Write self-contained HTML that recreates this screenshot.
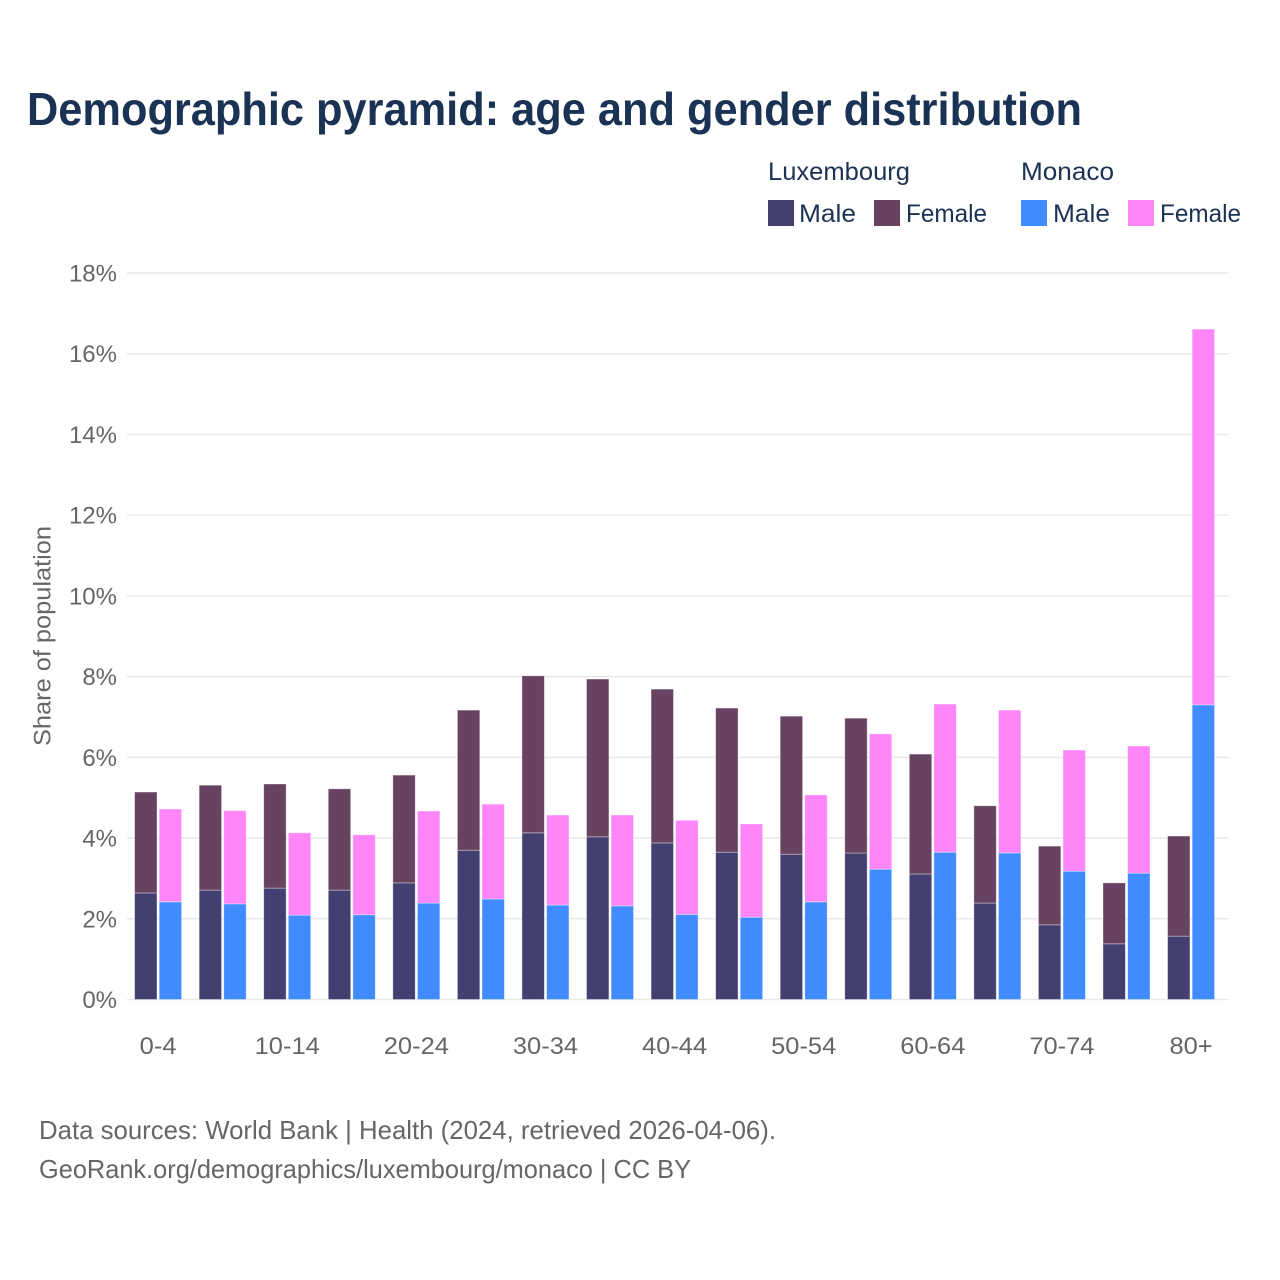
<!DOCTYPE html>
<html lang="en">
<head>
<meta charset="utf-8">
<title>Demographic pyramid: age and gender distribution</title>
<style>
html,body{margin:0;padding:0;background:#fff;width:1280px;height:1280px;overflow:hidden}
svg{display:block}
text{font-family:"Liberation Sans",sans-serif}
.dark{fill:#1a3253}
.grey{fill:#666666}
</style>
</head>
<body>
<svg id="chart" xmlns="http://www.w3.org/2000/svg" width="1280" height="1280" viewBox="0 0 1280 1280">
  <rect x="0" y="0" width="1280" height="1280" fill="#ffffff"/>
  <text class="dark" x="27" y="125" font-size="46" font-weight="700" textLength="1055" lengthAdjust="spacingAndGlyphs">Demographic pyramid: age and gender distribution</text>

  <g>
    <text class="dark" x="768" y="180" font-size="25" textLength="142" lengthAdjust="spacingAndGlyphs">Luxembourg</text>
    <text class="dark" x="1021" y="180" font-size="25" textLength="93" lengthAdjust="spacingAndGlyphs">Monaco</text>
    <rect x="768" y="200" width="26" height="26" fill="#433f70"/>
    <text class="dark" x="799" y="222" font-size="25" textLength="57" lengthAdjust="spacingAndGlyphs">Male</text>
    <rect x="874" y="200" width="26" height="26" fill="#684261"/>
    <text class="dark" x="906" y="222" font-size="25" textLength="81" lengthAdjust="spacingAndGlyphs">Female</text>
    <rect x="1021" y="200" width="26" height="26" fill="#408cff"/>
    <text class="dark" x="1053" y="222" font-size="25" textLength="57" lengthAdjust="spacingAndGlyphs">Male</text>
    <rect x="1128" y="200" width="26" height="26" fill="#ff85f9"/>
    <text class="dark" x="1160" y="222" font-size="25" textLength="81" lengthAdjust="spacingAndGlyphs">Female</text>
  </g>

  <g id="grid"></g>
  <g id="yticks"></g>
  <g id="bars"></g>
  <g id="xticks"></g>

  <text class="grey" x="0" y="0" transform="translate(50.5,636) rotate(-90)" text-anchor="middle" font-size="24" textLength="220" lengthAdjust="spacingAndGlyphs">Share of population</text>

  <text class="grey" x="39" y="1139" font-size="26" textLength="737" lengthAdjust="spacingAndGlyphs">Data sources: World Bank | Health (2024, retrieved 2026-04-06).</text>
  <text class="grey" x="39" y="1178" font-size="26" textLength="652" lengthAdjust="spacingAndGlyphs">GeoRank.org/demographics/luxembourg/monaco | CC BY</text>
</svg>
<script>
const ageGroups = ["0-4","5-9","10-14","15-19","20-24","25-29","30-34","35-39","40-44","45-49","50-54","55-59","60-64","65-69","70-74","75-79","80+"];
const luxembourgMale = [2.64,2.71,2.76,2.71,2.89,3.70,4.13,4.03,3.88,3.65,3.60,3.63,3.11,2.39,1.85,1.38,1.57];
const luxembourgFemale = [2.50,2.60,2.58,2.51,2.67,3.47,3.89,3.91,3.81,3.57,3.42,3.34,2.97,2.41,1.95,1.51,2.48];
const monacoMale = [2.42,2.37,2.09,2.10,2.39,2.49,2.34,2.32,2.11,2.04,2.42,3.23,3.65,3.63,3.18,3.13,7.30];
const monacoFemale = [2.30,2.31,2.04,1.98,2.28,2.35,2.23,2.25,2.33,2.31,2.65,3.35,3.67,3.54,3.00,3.15,9.31];
const yTickValues = [0,2,4,6,8,10,12,14,16,18];
const xTickLabels = ["0-4","","10-14","","20-24","","30-34","","40-44","","50-54","","60-64","","70-74","","80+"];

const NS = "http://www.w3.org/2000/svg";
const yScale = v => 999.5 - v * 40.36;
const xScale = i => 158.1 + i * 64.56;
const barW = 22.4, barGap = 1.1;

function make(tag, attrs, parent) {
  const el = document.createElementNS(NS, tag);
  for (const k in attrs) el.setAttribute(k, attrs[k]);
  parent.appendChild(el);
  return el;
}

const grid = document.getElementById("grid");
const yticks = document.getElementById("yticks");
yTickValues.forEach(v => {
  const line = make("line", {x1:127, x2:1228.5, y1:yScale(v), y2:yScale(v), stroke:"#e9e9e9", "stroke-width":1.5}, grid);
  
  
  const label = make("text", {x:117, y:yScale(v)+8.5, "text-anchor":"end", "font-size":24, class:"grey"}, yticks);
  
  
  label.textContent = v + "%";
});

const bars = document.getElementById("bars");
function stacked(i, x, lower, upper, lowerColor, upperColor) {
  const low = make("rect", {x:x, y:yScale(lower), width:barW, height:yScale(0)-yScale(lower), fill:lowerColor, stroke:"#ffffff", "stroke-opacity":0.45, "stroke-width":0.8}, bars);
  
  
  const up = make("rect", {x:x, y:yScale(lower+upper), width:barW, height:yScale(lower)-yScale(lower+upper), fill:upperColor, stroke:"#ffffff", "stroke-opacity":0.45, "stroke-width":0.8}, bars);
  
  
}
ageGroups.forEach((g, i) => {
  const c = xScale(i);
  stacked(i, c - barW - barGap, luxembourgMale[i], luxembourgFemale[i], "#433f70", "#684261");
  stacked(i, c + barGap, monacoMale[i], monacoFemale[i], "#408cff", "#ff85f9");
});

const xticks = document.getElementById("xticks");
xTickLabels.forEach((t, i) => {
  if (!t) return;
  const label = make("text", {x:xScale(i), y:1054, "text-anchor":"middle", "font-size":24, class:"grey"}, xticks);
  
  
  label.textContent = t;
  const w = label.getComputedTextLength();
  label.setAttribute("textLength", (w * 1.06).toFixed(1));
  label.setAttribute("lengthAdjust", "spacingAndGlyphs");
});
</script>
</body>
</html>
